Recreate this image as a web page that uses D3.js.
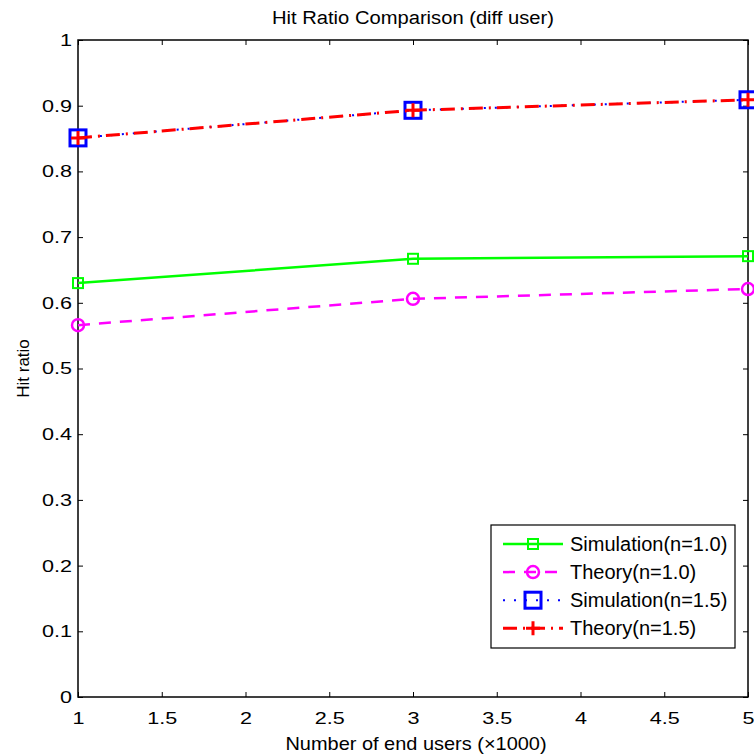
<!DOCTYPE html>
<html><head><meta charset="utf-8">
<script src="https://cdn.jsdelivr.net/npm/d3@7"></script>
<style>body{margin:0;background:#fff}svg text{font-family:"Liberation Sans",Arial,sans-serif;fill:#000}</style>
</head><body>
<svg id="chart" width="754" height="756"></svg>
<script>
// Number of end users (x1000)
const users = [1, 3, 5];
const simN10 = [0.630, 0.667, 0.671];
const theoryN10 = [0.566, 0.606, 0.621];
const simN15 = [0.851, 0.893, 0.909];
const theoryN15 = [0.851, 0.893, 0.909];
const xTicks = [1, 1.5, 2, 2.5, 3, 3.5, 4, 4.5, 5];
const yTicks = [0, 0.1, 0.2, 0.3, 0.4, 0.5, 0.6, 0.7, 0.8, 0.9, 1];
const seriesNames = ["Simulation(n=1.0)", "Theory(n=1.0)", "Simulation(n=1.5)", "Theory(n=1.5)"];

const svg = d3.select("#chart");
const L = 78, R = 748, T = 40, B = 697;
const x = d3.scaleLinear().domain([1, 5]).range([L, R]);
const y = d3.scaleLinear().domain([0, 1]).range([B, T]);

const series = [
  {name: seriesNames[0], vals: simN10, color: "#00ff00", dash: null, w: 2.5, marker: "square", ms: 10},
  {name: seriesNames[1], vals: theoryN10, color: "#ff00ff", dash: "12,9", w: 2.5, marker: "circle", ms: 12},
  {name: seriesNames[2], vals: simN15, color: "#0000ff", dash: "2,9", w: 2, marker: "square", ms: 16},
  {name: seriesNames[3], vals: theoryN15, color: "#ff0000", dash: "14,6,2,6", w: 3, marker: "plus", ms: 14}
];

// widen glyphs horizontally without changing their height
function widen(sel, factor) {
  sel.each(function () {
    const len = this.getComputedTextLength();
    d3.select(this).attr("textLength", len * factor).attr("lengthAdjust", "spacingAndGlyphs");
  });
}

// axes: ticks inside on all four sides
const tk = 5;
const axBottom = d3.axisBottom(x).tickValues(xTicks).tickSize(-tk).tickPadding(14.5).tickFormat(d3.format("~g"));
const axTop = d3.axisTop(x).tickValues(xTicks).tickSize(-tk).tickFormat("");
const axLeft = d3.axisLeft(y).tickValues(yTicks).tickSize(-tk).tickPadding(6).tickFormat(d3.format("~g"));
const axRight = d3.axisRight(y).tickValues(yTicks).tickSize(-tk).tickFormat("");

function styleAxis(g) {
  g.select(".domain").remove();
  g.selectAll(".tick line").attr("stroke", "#000").attr("stroke-width", 1);
  g.selectAll(".tick text").attr("font-size", 17).attr("font-family", "Liberation Sans, Arial, sans-serif");
}
const gB = svg.append("g").attr("transform", `translate(0,${B})`).call(axBottom).call(styleAxis);
svg.append("g").attr("transform", `translate(0,${T})`).call(axTop).call(styleAxis);
const gL = svg.append("g").attr("transform", `translate(${L},0)`).call(axLeft).call(styleAxis);
svg.append("g").attr("transform", `translate(${R},0)`).call(axRight).call(styleAxis);
widen(gB.selectAll(".tick text"), 1.27);
widen(gL.selectAll(".tick text"), 1.27);

// plot frame
svg.append("rect").attr("x", L).attr("y", T).attr("width", R - L).attr("height", B - T)
  .attr("fill", "none").attr("stroke", "#000").attr("stroke-width", 1.5);

function drawMarker(g, type, cx, cy, size, color) {
  const h = size / 2;
  if (type === "square") {
    g.append("rect").attr("x", cx - h).attr("y", cy - h).attr("width", size).attr("height", size)
      .attr("fill", "none").attr("stroke", color).attr("stroke-width", size > 12 ? 3 : 2);
  } else if (type === "circle") {
    g.append("circle").attr("cx", cx).attr("cy", cy).attr("r", h)
      .attr("fill", "none").attr("stroke", color).attr("stroke-width", 2.5);
  } else if (type === "plus") {
    g.append("path").attr("d", `M${cx - h},${cy}H${cx + h}M${cx},${cy - h}V${cy + h}`)
      .attr("stroke", color).attr("stroke-width", 3);
  }
}

const line = d3.line().x((d, i) => x(users[i])).y(d => y(d));
const plot = svg.append("g");
series.forEach(s => {
  plot.append("path").attr("d", line(s.vals)).attr("fill", "none")
    .attr("stroke", s.color).attr("stroke-width", s.w)
    .attr("stroke-dasharray", s.dash);
  s.vals.forEach((v, i) => drawMarker(plot, s.marker, x(users[i]), y(v), s.ms, s.color));
});

// legend
const lg = svg.append("g");
lg.append("rect").attr("x", 491).attr("y", 525).attr("width", 244).attr("height", 123)
  .attr("fill", "#fff").attr("stroke", "#000").attr("stroke-width", 1.2);
series.forEach((s, i) => {
  const ry = 544 + i * 28.1;
  lg.append("path").attr("d", `M503,${ry}H563`).attr("fill", "none")
    .attr("stroke", s.color).attr("stroke-width", s.w).attr("stroke-dasharray", s.dash);
  drawMarker(lg, s.marker, 533, ry, s.ms, s.color);
  lg.append("text").attr("x", 570).attr("y", ry + 7).attr("font-size", 20).text(s.name);
});

// titles
const title = svg.append("text").attr("x", (L + R) / 2).attr("y", 24).attr("text-anchor", "middle")
  .attr("font-size", 18).text("Hit Ratio Comparison (diff user)");
widen(title, 1.12);
const xl = svg.append("text").attr("x", 416).attr("y", 750).attr("text-anchor", "middle")
  .attr("font-size", 19).text("Number of end users (×1000)");
widen(xl, 1.05);
svg.append("text").attr("transform", `translate(29,${(T + B) / 2}) rotate(-90)`)
  .attr("text-anchor", "middle").attr("font-size", 17).text("Hit ratio");
</script>
</body></html>
